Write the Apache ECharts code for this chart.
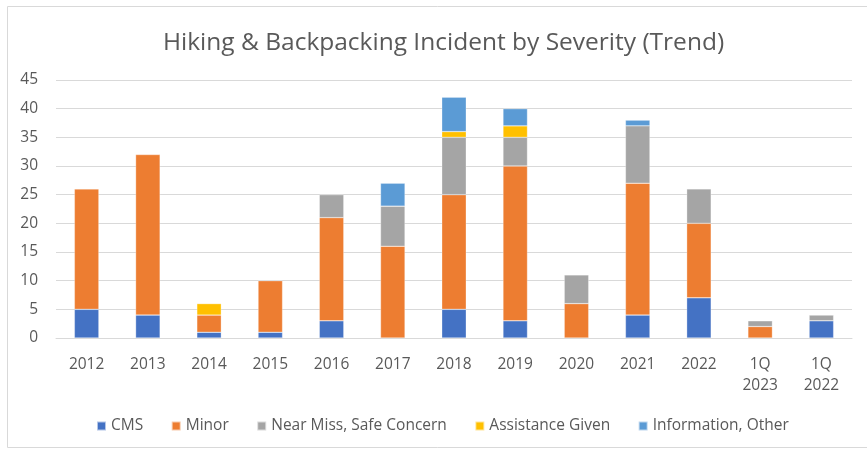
<!DOCTYPE html>
<html><head><meta charset="utf-8">
<script src="https://cdn.jsdelivr.net/npm/echarts@6/dist/echarts.min.js"></script>
<style>html,body{margin:0;padding:0;background:#fff}#c{width:867px;height:449px}</style>
</head><body><div id="c"></div>
<script>
const categories = ['2012','2013','2014','2015','2016','2017','2018','2019','2020','2021','2022','1Q\n2023','1Q\n2022'];
const cms        = [5, 4, 1, 1, 3, 0, 5, 3, 0, 4, 7, 0, 3];
const minor      = [21, 28, 3, 9, 18, 16, 20, 27, 6, 23, 13, 2, 0];
const nearMiss   = [0, 0, 0, 0, 4, 7, 10, 5, 5, 10, 6, 1, 1];
const assistance = [0, 0, 2, 0, 0, 0, 1, 2, 0, 0, 0, 0, 0];
const infoOther  = [0, 0, 0, 0, 0, 4, 6, 3, 0, 1, 0, 0, 0];
const yTicks = [0,5,10,15,20,25,30,35,40,45];

const font = 'Open Sans';
const chart = echarts.init(document.getElementById('c'), null, {renderer:'canvas'});
function s(name, data, color){
  return {name, type:'bar', stack:'t', data: data.map(v => v === 0 ? null : v), barWidth:'40%',
    itemStyle:{color, borderColor:'rgba(255,255,255,0.6)', borderWidth:0.5}};
}
chart.setOption({
  animation:false,
  title:{text:'Hiking & Backpacking Incident by Severity (Trend)', left:158, top:26,
    textStyle:{fontFamily:font, fontWeight:'normal', fontSize:24.5, color:'#595959'}},
  graphic:[{type:'rect', shape:{x:7.5,y:6.5,width:870,height:441}, style:{fill:'none', stroke:'#d9d9d9', lineWidth:1}, silent:true}],
  grid:{left:56, right:15, top:80, bottom:111},
  legend:{top:413, left:91, itemWidth:9, itemHeight:9, itemGap:27.5, icon:'rect',
    textStyle:{fontFamily:font, fontSize:15.5, color:'#595959'},
    data:['CMS','Minor','Near Miss, Safe Concern','Assistance Given','Information, Other']},
  xAxis:{type:'category', data:categories,
    axisLine:{lineStyle:{color:'#d9d9d9'}}, axisTick:{show:false},
    axisLabel:{fontFamily:font, fontSize:15.5, color:'#595959', margin:16, lineHeight:21}},
  yAxis:{type:'value', min:yTicks[0], max:yTicks[yTicks.length-1], interval:5,
    axisLine:{show:false}, axisTick:{show:false},
    splitLine:{lineStyle:{color:'#d9d9d9'}},
    axisLabel:{fontFamily:font, fontSize:15.5, color:'#595959', margin:18}},
  series:[
    s('CMS', cms, '#4472C4'),
    s('Minor', minor, '#ED7D31'),
    s('Near Miss, Safe Concern', nearMiss, '#A5A5A5'),
    s('Assistance Given', assistance, '#FFC000'),
    s('Information, Other', infoOther, '#5B9BD5')
  ]
});
</script></body></html>
